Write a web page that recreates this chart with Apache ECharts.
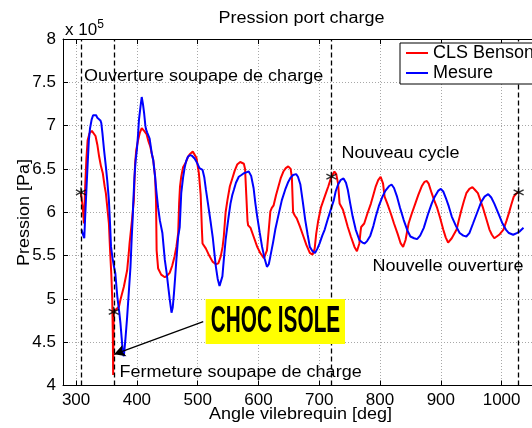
<!DOCTYPE html>
<html>
<head>
<meta charset="utf-8">
<script src="https://cdn.jsdelivr.net/npm/echarts@6/dist/echarts.min.js"></script>
<style>html,body{margin:0;padding:0;background:#fff;}#c{width:532px;height:428px;}</style>
</head>
<body>
<div id="c"></div>
<script>
// Values in units of 1e5 Pa
const clsAngle = [308,311,313,315,317,319,322,326,329,332,335,338,341,344,347,349,351,352,354,356,358,359.5,360.5,361,362,366,370.5,373,378.6,384,386.7,388,392,395,397,399,402,405,408,412,416,419,422,425,427,430,431.5,432.5,435,440,446,450,454,458,462,465,468,469.5,471,473,476,481,484,487,492,495,498,502,505,507,508,513.6,519,524.5,530,534,538,541,543,546,549,553,557,561,565,570,573,576,578,580,582,583,587,592,598,603,609,612,614,617,619.6,622,625,629,633,637,641,645,649,653,655,657,660,663,668,674,679,684.5,689,692.5,695,698,703,707,711,715,719,721,725,728,731,733.5,739,743,747,752,758,762,766,768,769,774,779,785,789,793,797,801,805,807.5,812,818,823,829,834,838,842,847,852,858,863,868.6,873,877,880,885,889,893.5,899,904,908,912,915,918,926,930,934,938,942,947,952,956,961,965,969,975,980,984,988,992,996,1003,1008,1012,1016,1020,1025,1029];
const clsPressure = [6.23,6.05,5.87,6.30,6.62,6.83,6.91,6.94,6.93,6.88,6.78,6.64,6.53,6.45,6.30,6.22,6.24,6.22,5.87,5.55,5.28,5.0,4.55,4.12,4.85,4.88,4.91,4.99,5.14,5.33,5.53,5.64,5.91,6.14,6.55,6.72,6.83,6.92,6.97,6.94,6.90,6.82,6.76,6.66,6.60,6.41,6.14,5.56,5.35,5.28,5.25,5.27,5.30,5.38,5.49,5.60,5.76,6.10,6.30,6.41,6.52,6.58,6.64,6.67,6.70,6.68,6.63,6.45,6.20,5.80,5.64,5.58,5.50,5.43,5.40,5.41,5.49,5.60,5.72,6.00,6.14,6.30,6.39,6.48,6.55,6.58,6.59,6.56,6.50,6.20,5.90,5.85,5.82,5.72,5.60,5.53,5.47,5.49,5.56,5.80,6.01,6.05,6.08,6.20,6.30,6.40,6.47,6.51,6.53,6.50,6.40,6.00,5.96,5.93,5.84,5.72,5.62,5.53,5.51,5.58,5.75,5.89,6.06,6.14,6.22,6.30,6.39,6.42,6.47,6.44,6.33,6.10,6.03,5.93,5.83,5.72,5.60,5.55,5.64,5.78,5.83,5.87,5.98,6.10,6.20,6.30,6.37,6.41,6.33,6.18,6.10,5.98,5.87,5.75,5.64,5.60,5.68,5.87,5.98,6.10,6.20,6.30,6.35,6.36,6.33,6.22,6.14,6.06,5.93,5.80,5.71,5.65,5.66,5.70,5.80,5.92,6.03,6.13,6.22,6.27,6.29,6.26,6.22,6.14,6.06,5.92,5.80,5.74,5.70,5.72,5.74,5.80,5.90,5.99,6.09,6.18,6.22,6.24];

const mesAngle = [309,311,313.5,315,317,319,321,323,325.6,328,330,333,335,337,338,340,341.5,343.4,346,349,351.5,354,356,357.5,360,362.4,364.5,367.8,371,373,375,377,378.6,381,384,386.5,389.5,391.5,393,394,396,398,400,402,403.5,406,408,410,412,414,415,417,419,421,424.5,427,430,432,435,438,442,446,449,451.6,454,457,459,461,463,465,468,470.5,473,476,478.5,481,484,487.7,491,495,499,503,506,508,511,513.6,517,521.7,525,528,530,533,536,538,540.7,543,546,550,554,557,559.6,563,567.7,572,576,580,584,588,592,595,598,602,606,610,614,617,619.6,624,627.7,633,638.5,644,649,653,657,662,665,669,673,677,681,684.5,689,693,697,700.6,705,709,714,719,724,727,731,735,740,744,747,751,755,760,766,771,775,779,784,789,793,798,804,809,814.6,819,823,828,833,839,845,850,856,861,866,872,879,885,890,896,900,904,908,913,918,925,931,937,942,947,953,960,966.5,972,978,983,988,995,1001.5,1007,1012,1019,1025,1030,1036];
const mesPressure = [5.80,5.75,5.70,5.95,6.26,6.55,6.83,6.97,7.07,7.12,7.14,7.12,7.09,7.07,7.10,7.06,7.03,6.91,6.72,6.53,6.35,6.14,5.85,5.60,5.47,5.37,5.30,5.03,4.85,4.72,4.55,4.37,4.34,4.52,4.79,5.05,5.37,5.70,5.91,6.10,6.40,6.60,6.72,6.90,7.07,7.22,7.33,7.25,7.14,7.00,6.96,6.92,6.91,6.85,6.68,6.60,6.41,6.25,6.05,5.90,5.76,5.45,5.30,5.14,5.00,4.84,4.90,5.06,5.25,5.45,5.72,5.83,6.22,6.40,6.51,6.59,6.64,6.66,6.65,6.62,6.57,6.51,6.50,6.49,6.40,6.26,6.10,5.87,5.70,5.50,5.37,5.23,5.15,5.17,5.26,5.45,5.68,5.90,6.10,6.20,6.26,6.34,6.41,6.43,6.45,6.46,6.47,6.42,6.28,6.10,5.95,5.77,5.60,5.47,5.37,5.40,5.49,5.65,5.80,5.97,6.14,6.26,6.35,6.40,6.43,6.44,6.41,6.32,6.12,5.91,5.74,5.60,5.55,5.53,5.58,5.64,5.73,5.80,5.92,6.03,6.14,6.24,6.32,6.37,6.39,6.34,6.26,6.10,5.95,5.80,5.68,5.65,5.64,5.67,5.73,5.84,5.95,6.07,6.18,6.25,6.30,6.32,6.28,6.18,6.05,5.91,5.79,5.72,5.70,5.69,5.73,5.82,5.98,6.10,6.18,6.25,6.27,6.24,6.17,6.07,5.95,5.84,5.76,5.73,5.72,5.76,5.87,6.00,6.12,6.18,6.21,6.17,6.10,5.98,5.87,5.80,5.76,5.74,5.76,5.78,5.82];

const eventAngle = [308, 362, 720, 1028];
const eventPressure = [6.23, 4.85, 6.41, 6.23];
const arrowFrom = [509.2, 4.737];
const arrowTo = [362.6, 4.36];
const xTicks = [300, 400, 500, 600, 700, 800, 900, 1000];
const seriesNames = ['CLS Benson', 'Mesure'];
const titleText = 'Pression port charge';
const xName = 'Angle vilebrequin [deg]';
const yName = 'Pression [Pa]';

const FF = "'Liberation Sans', Arial, Helvetica, sans-serif";
const zip = (a, b) => a.map((v, i) => [v, b[i]]);

const chart = echarts.init(document.getElementById('c'), null, {renderer: 'canvas'});
const gridLine = {show: true, lineStyle: {color: '#a8a8a8', type: [1, 2], width: 1}};
const star = 'path://M5,0L5,10M0.67,2.5L9.33,7.5M0.67,7.5L9.33,2.5';

function txt(text, x, y, align, extra) {
  return Object.assign({
    type: 'text', x: x, y: y, z: 50, scaleY: 0.9,
    style: {text: text, fontSize: 18, fontFamily: FF, fill: '#000',
      align: align || 'left', textAlign: align || 'left', verticalAlign: 'middle', textVerticalAlign: 'middle'}
  }, extra || {});
}

chart.setOption({
  animation: false,
  backgroundColor: '#fff',
  grid: {left: 63, top: 39, right: -8, bottom: 42.5, containLabel: false},
  xAxis: [{
    type: 'value', min: 278.5, max: 1050, position: 'bottom',
    axisLine: {show: true, onZero: false, lineStyle: {color: '#000', width: 1}},
    axisTick: {show: true, inside: true, length: 5, customValues: xTicks, lineStyle: {color: '#000'}},
    axisLabel: {show: true, customValues: xTicks, color: '#000', fontSize: 17, fontFamily: FF, margin: 6,
      formatter: v => String(v)},
    splitLine: gridLine
  }, {
    type: 'value', min: 278.5, max: 1050, position: 'top',
    axisLine: {show: true, onZero: false, lineStyle: {color: '#000', width: 1}},
    axisTick: {show: true, inside: true, length: 5, customValues: xTicks, lineStyle: {color: '#000'}},
    axisLabel: {show: false},
    splitLine: {show: false}
  }],
  yAxis: {
    type: 'value', min: 4, max: 8, interval: 0.5,
    axisLine: {show: true, onZero: false, lineStyle: {color: '#000', width: 1}},
    axisTick: {show: true, inside: true, length: 5, lineStyle: {color: '#000'}},
    axisLabel: {color: '#000', fontSize: 17, fontFamily: FF, margin: 7, formatter: v => String(v)},
    splitLine: gridLine
  },
  legend: {
    data: seriesNames, orient: 'vertical', left: 400, top: 43,
    itemWidth: 22, itemHeight: 2, itemGap: 2,
    padding: [1, 40, 2, 6],
    borderColor: '#000', borderWidth: 1, backgroundColor: '#fff', borderRadius: 0,
    textStyle: {color: '#000', fontSize: 18, fontFamily: FF},
    icon: 'rect', z: 20
  },
  series: [{
    name: seriesNames[0], type: 'line', data: zip(clsAngle, clsPressure),
    showSymbol: false, symbol: 'none', color: '#ff0000',
    lineStyle: {color: '#ff0000', width: 2}, z: 3
  }, {
    name: seriesNames[1], type: 'line', data: zip(mesAngle, mesPressure),
    showSymbol: false, symbol: 'none', color: '#0000ff',
    lineStyle: {color: '#0000ff', width: 2}, z: 4
  }, {
    name: 'events', type: 'scatter', data: zip(eventAngle, eventPressure),
    symbol: star, symbolSize: 10, z: 6,
    itemStyle: {color: 'rgba(0,0,0,0)', borderColor: '#000', borderWidth: 1.4},
    markLine: {
      silent: true, symbol: 'none', animation: false,
      label: {show: false},
      lineStyle: {color: '#000', type: [5, 3], width: 1.3},
      data: eventAngle.map(a => ({xAxis: a}))
    }
  }, {
    name: 'arrow', type: 'line', data: [], z: 7,
    markLine: {
      silent: true, symbol: ['none', 'arrow'], symbolSize: [9, 11], animation: false,
      label: {show: false},
      lineStyle: {color: '#000', type: 'solid', width: 1.3},
      data: [[{coord: arrowFrom}, {coord: arrowTo}]]
    }
  }],
  graphic: [
    txt(titleText, 301.5, 18.5, 'center'),
    {type: 'text', x: 65, y: 30, z: 50, style: {text: 'x 10{s|5}', fontSize: 17, fontFamily: FF, fill: '#000',
      align: 'left', textAlign: 'left', verticalAlign: 'middle', textVerticalAlign: 'middle',
      rich: {s: {fontSize: 12, fontFamily: FF, fill: '#000', verticalAlign: 'top', padding: [0, 0, 10, 0]}}}},
    txt('Ouverture soupape de charge', 84, 77, 'left'),
    txt('Nouveau cycle', 341.5, 154, 'left'),
    txt('Nouvelle ouverture', 372.5, 267, 'left'),
    txt('Fermeture soupape de charge', 119.5, 373, 'left'),
    txt(xName, 300.5, 415, 'center'),
    txt(yName, 24.5, 212.5, 'center', {rotation: Math.PI / 2, scaleY: 0.9}),
    {type: 'rect', shape: {x: 205.7, y: 299, width: 139.3, height: 45}, style: {fill: '#ffff00'}, z: 40},
    {type: 'text', x: 275.5, y: 321.5, z: 41, scaleX: 0.8, scaleY: 1.45,
      style: {text: 'CHOC ISOLE', fontSize: 26, fontWeight: 'bold', fontFamily: FF, fill: '#000',
        align: 'center', textAlign: 'center', verticalAlign: 'middle', textVerticalAlign: 'middle'}}
  ]
});
</script>
</body>
</html>
